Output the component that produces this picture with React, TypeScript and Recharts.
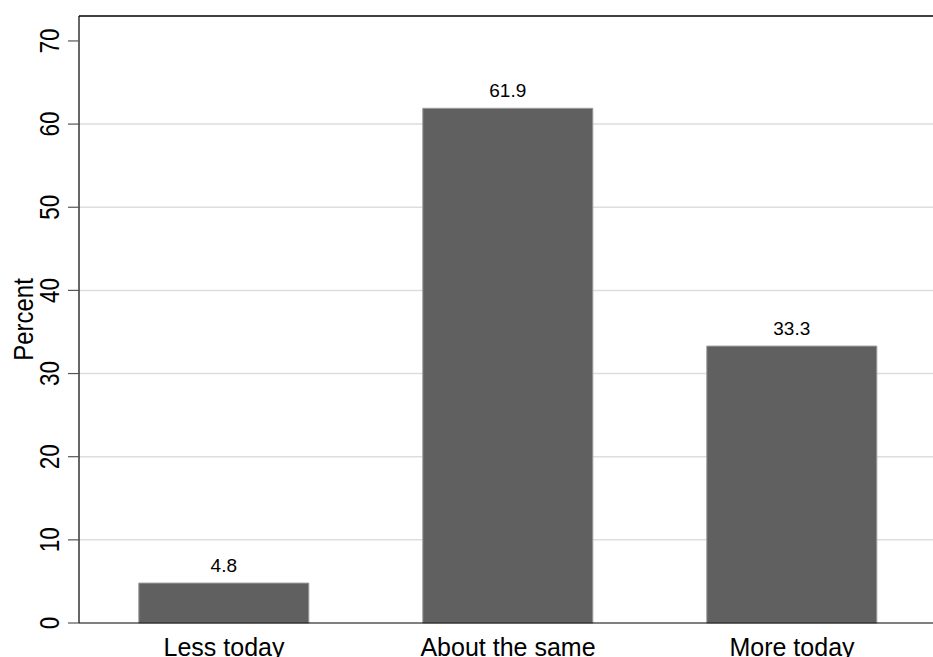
import React from "react";
import { BarChart, Bar, XAxis, YAxis, ReferenceLine, LabelList, CartesianGrid } from "recharts";

const categories = ["Less today", "About the same", "More today"];
const percents = [4.8, 61.9, 33.3];
const valueLabels = ["4.8", "61.9", "33.3"];
const yTicks = [0, 10, 20, 30, 40, 50, 60, 70];
const gridValues = [10, 20, 30, 40, 50, 60];
const yMax = 73;

const data = categories.map((c, i) => ({ name: c, value: percents[i], label: valueLabels[i] }));

const FONT = "'Liberation Sans', Arial, Helvetica, sans-serif";

const YTick = (props: any) => {
  const { y, payload } = props;
  return (
    <text
      transform={`translate(59, ${y}) rotate(-90) scale(1, 1.25)`}
      x={0}
      y={0}
      textAnchor="middle"
      fontFamily={FONT}
      fontSize={22.5}
      fill="#000"
    >
      {payload.value}
    </text>
  );
};

const XTick = (props: any) => {
  const { x, payload } = props;
  return (
    <text x={x} y={656} textAnchor="middle" fontFamily={FONT} fontSize={25} fill="#000">
      {payload.value}
    </text>
  );
};

const PercentLabel = (props: any) => {
  const vb = props.viewBox || { y: 16, height: 607 };
  const cy = vb.y + vb.height / 2;
  return (
    <text
      transform={`translate(32.5, ${cy}) rotate(-90) scale(1, 1.17)`}
      x={0}
      y={0}
      textAnchor="middle"
      fontFamily={FONT}
      fontSize={24}
      fill="#000"
    >
      Percent
    </text>
  );
};

const gridGen = (args: any) => {
  const yAxis = args && args.yAxis;
  if (yAxis && typeof yAxis.scale === "function") {
    return gridValues.map((v) => yAxis.scale(v));
  }
  const off = args.offset;
  return gridValues.map((v) => off.top + off.height * (1 - v / yMax));
};

export default function App() {
  return (
    <div style={{ position: "absolute", left: 0, top: 0, width: 933, height: 657, overflow: "hidden", background: "#fff" }}>
      <BarChart
        width={934}
        height={657}
        data={data}
        margin={{ top: 16, right: 0, bottom: 0, left: 0 }}
        barCategoryGap="20%"
      >
        <CartesianGrid
          vertical={false}
          stroke="#dddddd"
          strokeWidth={1.5}
          horizontalCoordinatesGenerator={gridGen}
        />
        <XAxis
          dataKey="name"
          height={34}
          tickLine={false}
          axisLine={{ stroke: "#000", strokeWidth: 1.2 }}
          tick={<XTick />}
          interval={0}
          padding={{ left: 3, right: 0 }}
        />
        <YAxis
          width={79}
          domain={[0, yMax]}
          ticks={yTicks}
          interval={0}
          tickSize={11}
          tickLine={{ stroke: "#555", strokeWidth: 1.2 }}
          axisLine={{ stroke: "#000", strokeWidth: 1.2 }}
          tick={<YTick />}
          label={{ value: "Percent", content: (p: any) => <PercentLabel {...p} /> }}
        />
        <ReferenceLine y={yMax} stroke="#000" strokeWidth={1.5} />
        <Bar dataKey="value" fill="#606060" stroke="#9a9a9a" strokeWidth={1} isAnimationActive={false}>
          <LabelList
            dataKey="label"
            position="top"
            offset={11}
            fontFamily={FONT}
            fontSize={19}
            fill="#000"
          />
        </Bar>
      </BarChart>
    </div>
  );
}
